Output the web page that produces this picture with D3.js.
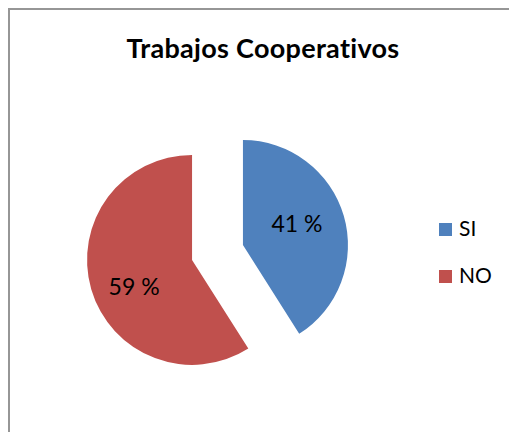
<!DOCTYPE html>
<html>
<head>
<meta charset="utf-8">
<script src="https://cdn.jsdelivr.net/npm/d3@7"></script>
<style>
  body { margin: 0; background: #fff; }
  text { font-family: Lato, "Liberation Sans", sans-serif; }
</style>
</head>
<body>
<div class="chart"></div>
<script>
var svgWidth = 509;
var svgHeight = 432;

var categories = ["SI", "NO"];
var values = [41, 59];
var labels = ["41 %", "59 %"];
var colors = ["#4F81BD", "#C0504D"];

var data = categories.map(function(c, i) {
  return { name: c, value: values[i], label: labels[i], color: colors[i] };
});

var svg = d3.select(".chart")
  .append("svg")
  .attr("width", svgWidth)
  .attr("height", svgHeight);

// chart area border (right / bottom edges fall outside the crop)
svg.append("rect")
  .attr("x", 9)
  .attr("y", 9)
  .attr("width", 560)
  .attr("height", 480)
  .attr("fill", "#fff")
  .attr("stroke", "#969696")
  .attr("stroke-width", 2);

svg.append("text")
  .attr("x", 263)
  .attr("y", 58)
  .attr("text-anchor", "middle")
  .attr("font-weight", "bold")
  .attr("font-size", "27px")
  .attr("letter-spacing", "0.3px")
  .attr("fill", "#000")
  .text("Trabajos Cooperativos");

var radius = 105;
var explode = 26.5;
var cx = 217.5, cy = 252.5;

var pie = d3.pie().sort(null).value(function(d) { return d.value; });
var arc = d3.arc().innerRadius(0).outerRadius(radius);

// label position: a bit inside the slice, slightly counter-clockwise of the middle
function labelPos(d) {
  var a = (d.startAngle + d.endAngle) / 2 - 7 * Math.PI / 180;
  var r = radius * 0.58;
  return [Math.sin(a) * r - 2, -Math.cos(a) * r + 3];
}

var chart = svg.append("g")
  .attr("transform", "translate(" + cx + "," + cy + ")");

var slices = chart.selectAll("g.slice")
  .data(pie(data))
  .enter().append("g")
    .attr("class", "slice")
    .attr("transform", function(d) {
      var a = (d.startAngle + d.endAngle) / 2;
      return "translate(" + (Math.sin(a) * explode) + "," + (-Math.cos(a) * explode) + ")";
    });

slices.append("path")
  .attr("d", arc)
  .attr("fill", function(d) { return d.data.color; });

slices.append("text")
  .attr("transform", function(d) { return "translate(" + labelPos(d) + ")"; })
  .attr("text-anchor", "middle")
  .attr("dy", "0.35em")
  .attr("font-size", "23px")
  .attr("fill", "#000")
  .text(function(d) { return d.data.label; });

// legend
var legend = svg.selectAll("g.legend")
  .data(data)
  .enter().append("g")
    .attr("class", "legend")
    .attr("transform", function(d, i) { return "translate(439," + (223 + i * 47) + ")"; });

legend.append("rect")
  .attr("width", 13)
  .attr("height", 13)
  .attr("fill", function(d) { return d.color; });

legend.append("text")
  .attr("x", 20)
  .attr("y", 13)
  .attr("font-size", "21px")
  .attr("fill", "#000")
  .text(function(d) { return d.name; });
</script>
</body>
</html>
